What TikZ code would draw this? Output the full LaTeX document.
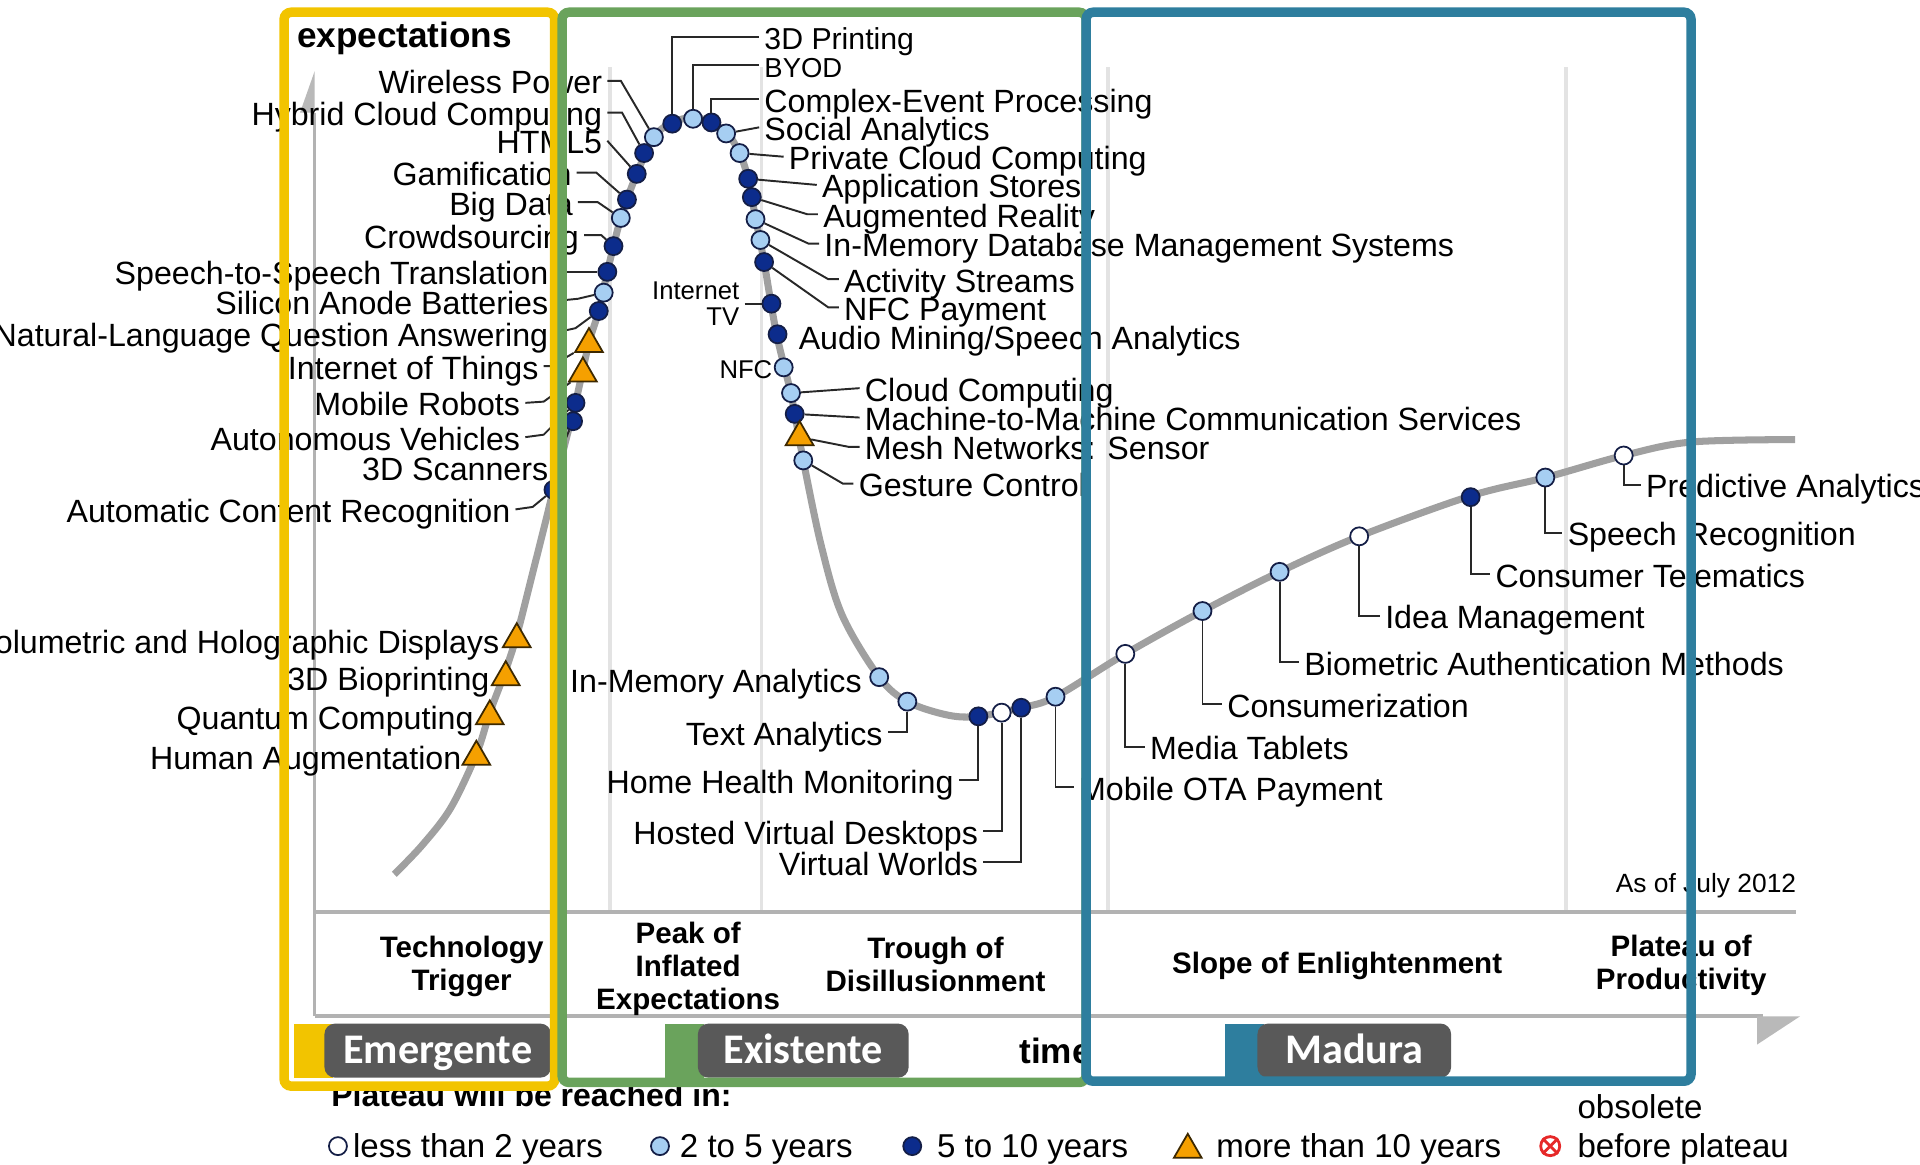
\documentclass[tikz,border=0pt]{standalone}
\usepackage{fontspec}
\setmainfont{Liberation Sans}
\newfontfamily\tabfont{Carlito}
\usepackage{xcolor}
\usepackage{tikz}
\usetikzlibrary{shapes,arrows,positioning,calc}

\definecolor{frameyellow}{RGB}{242,196,0}
\definecolor{framegreen}{RGB}{106,163,92}
\definecolor{frameblue}{RGB}{46,126,158}
\definecolor{tabgray}{RGB}{89,89,89}
\definecolor{dotlightc}{RGB}{166,206,242}
\definecolor{dotdarkc}{RGB}{12,44,140}
\definecolor{dotline}{RGB}{20,30,70}
\definecolor{triorange}{RGB}{245,160,0}
\definecolor{triline}{RGB}{60,40,0}
\definecolor{curvegray}{RGB}{160,160,160}
\definecolor{conblack}{RGB}{40,40,40}
\definecolor{obsred}{RGB}{230,40,40}

\begin{document}
\begin{tikzpicture}[x=0.012245cm, y=-0.012245cm,
    tech/.style={inner sep=0pt, outer sep=1.5pt, text height=7.4pt, text depth=0pt, font=\fontsize{9.15}{10}\selectfont},
    techsmall/.style={inner sep=0pt, outer sep=1.5pt, font=\fontsize{7.3}{7.2}\selectfont},
    phase/.style={align=center, inner sep=0pt, font=\bfseries\fontsize{8.4}{9.4}\selectfont},
    legend/.style={tech, font=\fontsize{9.4}{10}\selectfont},
    dot/.style={circle, draw=dotline, line width=0.5pt, inner sep=0pt, minimum size=0.18cm},
    dotwhite/.style={dot, fill=white},
    dotlight/.style={dot, fill=dotlightc},
    dotdark/.style={dot, fill=dotdarkc},
    tri/.style={regular polygon, regular polygon sides=3, draw=triline, fill=triorange, line width=0.5pt, inner sep=0pt, minimum size=0.32cm},
    con/.style={draw=conblack, line width=0.55pt},
    sep/.style={draw=gray!22, line width=1pt},
    axis/.style={draw=gray!60, line width=1.1pt},
    curve/.style={draw=curvegray, line width=2pt},
    frame/.style={line width=2.7pt, rounded corners=2pt},
    tabbox/.style={fill=tabgray, rounded corners=3pt, text=white, minimum height=0.54cm, inner sep=0pt, text height=9.7pt, text depth=2.2pt, font=\tabfont\bfseries\fontsize{12}{14}\selectfont}]

    \useasboundingbox (0,0) rectangle (1568,951);

    % axes and phase separators
    \foreach \xs in {498,622,905,1279}
        \draw[sep] (\xs,55) -- (\xs,745);
    \draw[axis, line width=0.8pt] (257,92) -- (257,830);
    \fill[gray!55] (257,58) -- (245,92) -- (257,92) -- cycle;
    \draw[axis] (257,745) -- (1467,745);
    \draw[axis] (257,830) -- (1440,830);
    \fill[gray!55] (1435,830) -- (1470,830) -- (1435,853) -- cycle;

    \node[anchor=west, inner sep=0pt, font=\bfseries\fontsize{10}{12}\selectfont] (ylab) at (242,31) {expectations};
    \node[anchor=west, inner sep=0pt, font=\bfseries\fontsize{10}{12}\selectfont] (xlab) at (832,858) {time};
    \node[anchor=west, inner sep=0pt, font=\fontsize{7.5}{8}\selectfont] (asof) at (1319,723) {As of July 2012};

    % hype curve
    \draw[curve] plot[smooth, tension=0.55] coordinates {(322,714) (345,690) (368,660) (389,616) (400,582) (412,550) (422,519) (437,460) (452,400) (462,360) (470,329) (481,280) (489,254) (496,222) (507,178) (520,142) (534,112) (549,100) (566,96) (581,100) (594,109) (604,125) (611,146) (617,178) (624,214) (634,272) (646,322) (656,376) (671,447) (688,503) (718,553) (741,573) (774,584) (799,585) (834,578) (862,569) (919,534) (982,499) (1045,467) (1110,438) (1201,405) (1262,390) (1326,372) (1381,361) (1466,359)};

    % technology trigger
    \node[tri] (vol) at (422,522) {};
    \node[tech, anchor=east] (volL) at (412,523) {Volumetric and Holographic Displays};
    \node[tri] (biop) at (413,553) {};
    \node[tech, anchor=east] (biopL) at (404,553) {3D Bioprinting};
    \node[tri] (qc) at (400,585) {};
    \node[tech, anchor=east] (qcL) at (391,585) {Quantum Computing};
    \node[tri] (ha) at (389,618) {};
    \node[tech, anchor=east] (haL) at (381,618) {Human Augmentation};

    \node[dotdark] (acr) at (452,400) {};
    \node[tech, anchor=east] (acrL) at (421,416) {Automatic Content Recognition};
    \draw[con] (acrL.east) -- ++(14,-2) -- (acr);
    \node[dotdark] (scan) at (468,344) {};
    \node[tech, anchor=east] (scanL) at (452,382) {3D Scanners};
    \draw[con] (scanL.east) -- (scan);
    \node[dotdark] (av) at (470,329) {};
    \node[tech, anchor=east] (avL) at (429,357) {Autonomous Vehicles};
    \draw[con] (avL.east) -- ++(15,-2) -- (av);
    \node[tri] (mr) at (476,305) {};
    \node[tech, anchor=east] (mrL) at (429,329) {Mobile Robots};
    \draw[con] (mrL.east) -- ++(15,-1) -- (mr);
    \node[tri] (iot) at (481,281) {};
    \node[tech, anchor=east] (iotL) at (444,299) {Internet of Things};
    \draw[con] (iotL.east) -- ++(6,0) -- (iot);
    \node[dotdark] (nlqa) at (489,254) {};
    \node[tech, anchor=east] (nlqaL) at (452,272) {Natural-Language Question Answering};
    \draw[con] (nlqaL.east) -- ++(18,-4) -- (nlqa);
    \node[dotlight] (sab) at (493,239) {};
    \node[tech, anchor=east] (sabL) at (452,246) {Silicon Anode Batteries};
    \draw[con] (sabL.east) -- ++(20,-2) -- (sab);
    \node[dotdark] (s2s) at (496,222) {};
    \node[tech, anchor=east] (s2sL) at (452,222) {Speech-to-Speech Translation};
    \draw[con] (s2sL.east) -- (s2s);
    \node[dotdark] (crowd) at (501,201) {};
    \node[tech, anchor=east] (crowdL) at (477,192) {Crowdsourcing};
    \draw[con] (crowdL.east) -- ++(14,0) -- (crowd);
    \node[dotlight] (big) at (507,178) {};
    \node[tech, anchor=east] (bigL) at (472,165) {Big Data};
    \draw[con] (bigL.east) -- ++(16,0) -- (big);
    \node[dotdark] (gam) at (512,163) {};
    \node[tech, anchor=east] (gamL) at (471,141) {Gamification};
    \draw[con] (gamL.east) -- ++(16,0) -- (gam);
    \node[dotdark] (html) at (520,142) {};
    \node[tech, anchor=east] (htmlL) at (496,115) {HTML5};
    \draw[con] (htmlL.east) -- (html);
    \node[dotdark] (hcc) at (526,125) {};
    \node[tech, anchor=east] (hccL) at (496,92) {Hybrid Cloud Computing};
    \draw[con] (hccL.east) -- ++(12,0) -- (hcc);
    \node[dotlight] (wp) at (534,112) {};
    \node[tech, anchor=east] (wpL) at (496,66) {Wireless Power};
    \draw[con] (wpL.east) -- ++(11,0) -- (wp);

    % peak
    \node[dotdark] (p3d) at (549,101) {};
    \node[tech, anchor=west, font=\fontsize{8.6}{9}\selectfont] (p3dL) at (620,30) {3D Printing};
    \draw[con] (p3d) |- (p3dL.west);
    \node[dotlight] (byod) at (566,97) {};
    \node[tech, anchor=west, font=\fontsize{7.8}{9}\selectfont] (byodL) at (620,53) {BYOD};
    \draw[con] (byod) |- (byodL.west);
    \node[dotdark] (cep) at (581,100) {};
    \node[tech, anchor=west] (cepL) at (620,81) {Complex-Event Processing};
    \draw[con] (cep) |- (cepL.west);
    \node[dotlight] (soc) at (593,109) {};
    \node[tech, anchor=west] (socL) at (620,104) {Social Analytics};
    \draw[con] (soc) -- (socL.west);
    \node[dotlight] (pcc) at (604,125) {};
    \node[tech, anchor=west] (pccL) at (640,128) {Private Cloud Computing};
    \draw[con] (pcc) -- (pccL.west);
    \node[dotdark] (apps) at (611,146) {};
    \node[tech, anchor=west] (appsL) at (667,151) {Application Stores};
    \draw[con] (apps) -- (appsL.west);
    \node[dotdark] (ar) at (614,161) {};
    \node[tech, anchor=west] (arL) at (668,175) {Augmented Reality};
    \draw[con] (ar) -- ([xshift=-3pt]arL.west) -- (arL.west);
    \node[dotlight] (imdb) at (617,179) {};
    \node[tech, anchor=west] (imdbL) at (669,199) {In-Memory Database Management Systems};
    \draw[con] (imdb) -- ([xshift=-3pt]imdbL.west) -- (imdbL.west);
    \node[dotlight] (act) at (621,196) {};
    \node[tech, anchor=west] (actL) at (685,228) {Activity Streams};
    \draw[con] (act) -- ([xshift=-3pt]actL.west) -- (actL.west);
    \node[dotdark] (nfcp) at (624,214) {};
    \node[tech, anchor=west] (nfcpL) at (685,251) {NFC Payment};
    \draw[con] (nfcp) -- ([xshift=-3pt]nfcpL.west) -- (nfcpL.west);
    \node[dotdark] (itv) at (630,248) {};
    \node[techsmall, anchor=east, align=right] (itvL) at (608,248) {Internet\\TV};
    \draw[con] (itvL.east) -- (itv);
    \node[dotdark] (audio) at (635,273) {};
    \node[tech, anchor=west] (audioL) at (648,275) {Audio Mining/Speech Analytics};
    \node[dotlight] (nfc) at (640,300) {};
    \node[techsmall, anchor=east] (nfcL) at (635,302) {NFC};
    \node[dotlight] (cloud) at (646,321) {};
    \node[tech, anchor=west] (cloudL) at (702,317) {Cloud Computing};
    \draw[con] (cloud) -- (cloudL.west);
    \node[dotdark] (m2m) at (649,338) {};
    \node[tech, anchor=west] (m2mL) at (702,341) {Machine-to-Machine Communication Services};
    \draw[con] (m2m) -- (m2mL.west);
    \node[tri] (mesh) at (653,357) {};
    \node[tech, anchor=west] (meshL) at (702,365) {Mesh Networks: Sensor};
    \draw[con] (mesh) -- ([xshift=-3pt]meshL.west) -- (meshL.west);
    \node[dotlight] (gest) at (656,376) {};
    \node[tech, anchor=west] (gestL) at (697,395) {Gesture Control};
    \draw[con] (gest) -- ([xshift=-3pt]gestL.west) -- (gestL.west);

    % trough
    \node[dotlight] (ima) at (718,553) {};
    \node[tech, anchor=east] (imaL) at (708,555) {In-Memory Analytics};
    \node[dotlight] (ta) at (741,573) {};
    \node[tech, anchor=east] (taL) at (725,598) {Text Analytics};
    \draw[con] (ta) |- (taL.east);
    \node[dotdark] (hhm) at (799,585) {};
    \node[tech, anchor=east] (hhmL) at (783,637) {Home Health Monitoring};
    \draw[con] (hhm) |- (hhmL.east);
    \node[dotwhite] (hvd) at (818,582) {};
    \node[tech, anchor=east] (hvdL) at (803,679) {Hosted Virtual Desktops};
    \draw[con] (hvd) |- (hvdL.east);
    \node[dotdark] (vw) at (834,578) {};
    \node[tech, anchor=east] (vwL) at (803,704) {Virtual Worlds};
    \draw[con] (vw) |- (vwL.east);
    \node[dotlight] (ota) at (862,569) {};
    \node[tech, anchor=west] (otaL) at (877,643) {Mobile OTA Payment};
    \draw[con] (ota) |- (otaL.west);

    % slope
    \node[dotwhite] (mt) at (919,534) {};
    \node[tech, anchor=west] (mtL) at (935,610) {Media Tablets};
    \draw[con] (mt) |- (mtL.west);
    \node[dotlight] (cons) at (982,499) {};
    \node[tech, anchor=west] (consL) at (998,575) {Consumerization};
    \draw[con] (cons) |- (consL.west);
    \node[dotlight] (bam) at (1045,467) {};
    \node[tech, anchor=west] (bamL) at (1061,541) {Biometric Authentication Methods};
    \draw[con] (bam) |- (bamL.west);
    \node[dotwhite] (idea) at (1110,438) {};
    \node[tech, anchor=west] (ideaL) at (1127,503) {Idea Management};
    \draw[con] (idea) |- (ideaL.west);
    \node[dotdark] (ctel) at (1201,406) {};
    \node[tech, anchor=west] (ctelL) at (1217,469) {Consumer Telematics};
    \draw[con] (ctel) |- (ctelL.west);
    \node[dotlight] (sr) at (1262,390) {};
    \node[tech, anchor=west] (srL) at (1276,435) {Speech Recognition};
    \draw[con] (sr) |- (srL.west);
    \node[dotwhite] (pa) at (1326,372) {};
    \node[tech, anchor=west] (paL) at (1340,396) {Predictive Analytics};
    \draw[con] (pa) |- (paL.west);

    % phases
    \node[phase] (ph1) at (377,789) {Technology\\Trigger};
    \node[phase] (ph2) at (562,791) {Peak of\\Inflated\\Expectations};
    \node[phase] (ph3) at (764,788) {Trough of\\Disillusionment};
    \node[phase] (ph4) at (1092,789) {Slope of Enlightenment};
    \node[phase] (ph5) at (1373,788) {Plateau of\\Productivity};

    % legend
    \node[anchor=west, inner sep=0pt, font=\bfseries\fontsize{9.1}{10}\selectfont] (lgt) at (270,894) {Plateau will be reached in:};
    \node[dotwhite] (lg2) at (276,936) {};
    \node[legend, anchor=west] (lg2L) at (284,935) {less than 2 years};
    \node[dotlight] (lg5) at (539,936) {};
    \node[legend, anchor=west] (lg5L) at (551,935) {2 to 5 years};
    \node[dotdark] (lg10) at (745,936) {};
    \node[legend, anchor=west] (lg10L) at (761,935) {5 to 10 years};
    \node[tri] (lg99) at (970,939) {};
    \node[legend, anchor=west] (lg99L) at (989,935) {more than 10 years};
    \node[circle, draw=obsred, line width=0.8pt, inner sep=0pt, minimum size=0.19cm] (lgob) at (1266,936) {};
    \draw[obsred, line width=0.8pt] (lgob.north west) -- (lgob.south east) (lgob.north east) -- (lgob.south west);
    \node[legend, anchor=west] (lgobL) at (1284,935) {before plateau};
    \node[legend, anchor=west] (lgobT) at (1284,903) {obsolete};

    % maturity tabs
    \fill[frameyellow] (240,836) rectangle (272,880);
    \node[tabbox, minimum width=2.265cm] (emg) at (357.5,858) {Emergente};
    \fill[framegreen] (543,836) rectangle (575,880);
    \node[tabbox, minimum width=2.106cm] (exi) at (656,858) {Existente};
    \fill[frameblue] (1000,836) rectangle (1032,880);
    \node[tabbox, minimum width=1.935cm] (mad) at (1106,858) {Madura};

    % frames
    \draw[frame, frameyellow] (232,10) rectangle (453,887);
    \draw[frame, framegreen] (459,10) rectangle (887,884);
    \draw[frame, frameblue] (887,10) rectangle (1381,883);

\end{tikzpicture}
\end{document}
